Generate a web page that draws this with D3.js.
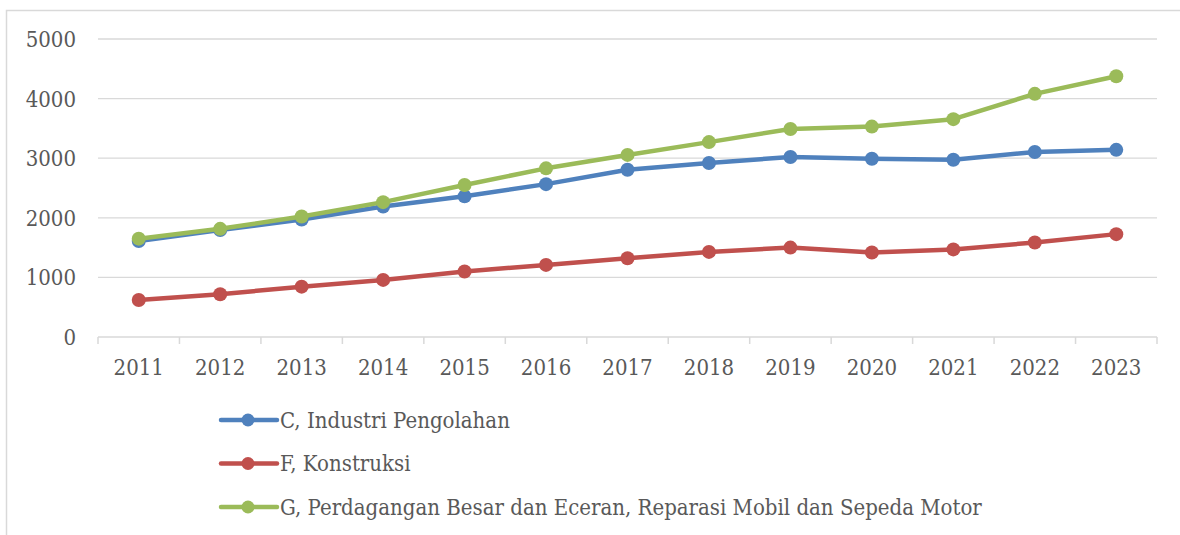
<!DOCTYPE html>
<html>
<head>
<meta charset="utf-8">
<script src="https://cdn.jsdelivr.net/npm/d3@7"></script>
<style>
  body { margin: 0; background: #fff; }
  text { font-family: "DejaVu Serif Condensed", "DejaVu Serif", serif; fill: #595959; }
</style>
</head>
<body>
<svg id="chart" width="1180" height="535"></svg>
<script>
const years = ["2011", "2012", "2013", "2014", "2015", "2016", "2017",
    "2018", "2019", "2020", "2021", "2022", "2023"];

const industri = [1610, 1795, 1970, 2190, 2360, 2565, 2805, 2920, 3020, 2990, 2975, 3105, 3140];
const konstruksi = [622, 717, 845, 958, 1098, 1210, 1322, 1428, 1500, 1417, 1470, 1585, 1726];
const perdagangan = [1650, 1815, 2022, 2263, 2550, 2830, 3055, 3270, 3490, 3530, 3655, 4080, 4375];

const seriesNames = ["C, Industri Pengolahan", "F, Konstruksi",
    "G, Perdagangan Besar dan Eceran, Reparasi Mobil dan Sepeda Motor"];
const yTicks = [0, 1000, 2000, 3000, 4000, 5000];

const colors = ["#4f81bd", "#c0504d", "#9bbb59"];
const series = [industri, konstruksi, perdagangan];

const svg = d3.select("#chart");

// chart frame
svg.append("rect")
    .attr("x", 6.5).attr("y", 10.5)
    .attr("width", 1200).attr("height", 600)
    .attr("fill", "none")
    .attr("stroke", "#d9d9d9")
    .attr("stroke-width", 1.5);

const x = d3.scaleBand()
    .domain(years)
    .range([98, 1157]);

const y = d3.scaleLinear()
    .domain([0, 5000])
    .range([337, 39]);

// gridlines
svg.append("g")
    .selectAll("line")
    .data(yTicks.slice(1))
    .enter()
    .append("line")
    .attr("x1", 98).attr("x2", 1157)
    .attr("y1", d => y(d)).attr("y2", d => y(d))
    .attr("stroke", "#d9d9d9")
    .attr("stroke-width", 1.3);

// y labels
svg.append("g")
    .selectAll("text")
    .data(yTicks)
    .enter()
    .append("text")
    .attr("x", 76)
    .attr("y", d => y(d))
    .attr("dy", "0.36em")
    .attr("text-anchor", "end")
    .attr("font-size", 22)
    .text(d => d);

// x axis
const xAxis = svg.append("g")
    .attr("transform", "translate(0," + y(0) + ")")
    .call(d3.axisBottom(x).tickSize(0).tickPadding(22));
xAxis.select(".domain").remove();
xAxis.selectAll("text")
    .attr("font-size", 22)
    .attr("font-family", null)
    .style("fill", "#595959");

svg.append("line")
    .attr("x1", 98).attr("x2", 1157)
    .attr("y1", y(0)).attr("y2", y(0))
    .attr("stroke", "#d9d9d9")
    .attr("stroke-width", 1.5);

svg.append("g")
    .selectAll("line")
    .data(years.concat(["end"]))
    .enter()
    .append("line")
    .attr("x1", (d, i) => 98 + i * x.step())
    .attr("x2", (d, i) => 98 + i * x.step())
    .attr("y1", y(0)).attr("y2", y(0) + 7)
    .attr("stroke", "#d9d9d9")
    .attr("stroke-width", 1.5);

// lines and markers
const line = d3.line()
    .x((d, i) => x(years[i]) + x.bandwidth() / 2)
    .y(d => y(d));

series.forEach((values, s) => {
    const g = svg.append("g");
    g.append("path")
        .attr("d", line(values))
        .attr("fill", "none")
        .attr("stroke", colors[s])
        .attr("stroke-width", 4.5)
        .attr("stroke-linejoin", "round");
    g.selectAll("circle")
        .data(values)
        .enter()
        .append("circle")
        .attr("cx", (d, i) => x(years[i]) + x.bandwidth() / 2)
        .attr("cy", d => y(d))
        .attr("r", 7)
        .attr("fill", colors[s]);
});

// legend
const legend = svg.append("g")
    .selectAll("g")
    .data(seriesNames)
    .enter()
    .append("g")
    .attr("transform", (d, i) => "translate(221," + (420 + i * 43.5) + ")");

legend.append("line")
    .attr("x1", 0).attr("x2", 56)
    .attr("stroke", (d, i) => colors[i])
    .attr("stroke-width", 4.5)
    .attr("stroke-linecap", "round");

legend.append("circle")
    .attr("cx", 27)
    .attr("r", 6.5)
    .attr("fill", (d, i) => colors[i]);

legend.append("text")
    .attr("x", 59)
    .attr("dy", "0.36em")
    .attr("font-size", 22)
    .text(d => d);
</script>
</body>
</html>
